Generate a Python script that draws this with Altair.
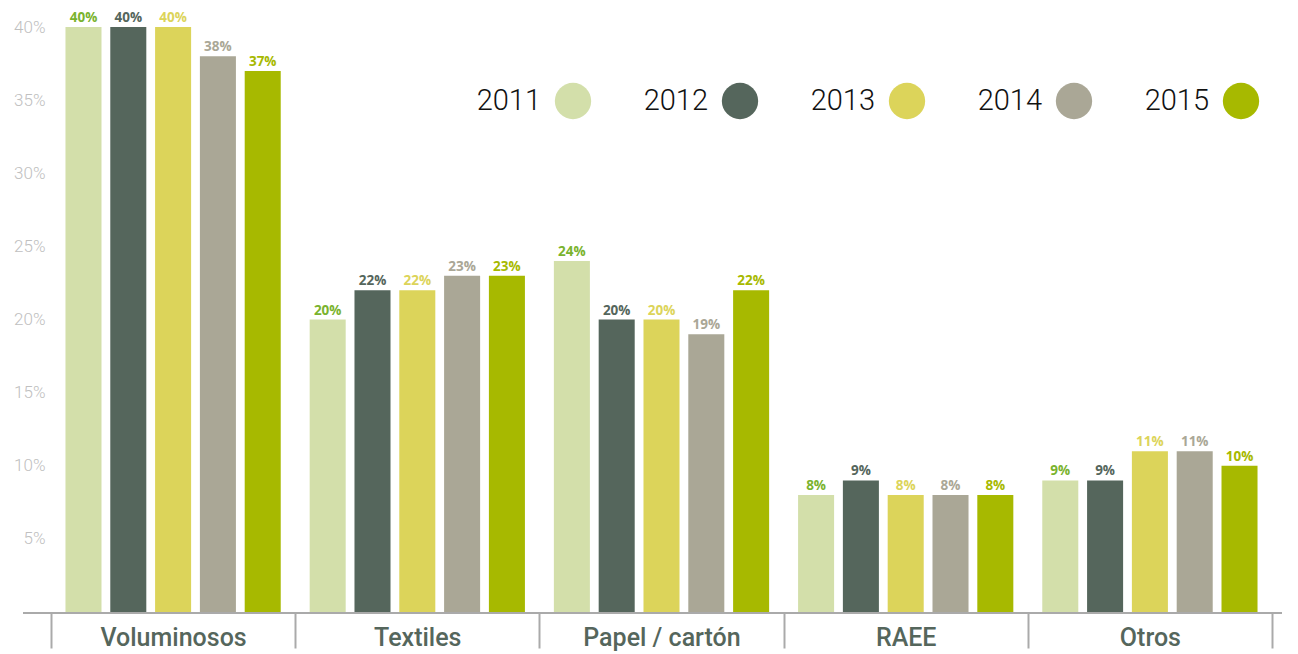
import altair as alt
import pandas as pd

categories = ["Voluminosos", "Textiles", "Papel / cartón", "RAEE", "Otros"]
years = ["2011", "2012", "2013", "2014", "2015"]
v2011 = [40, 20, 24, 8, 9]
v2012 = [40, 22, 20, 9, 9]
v2013 = [40, 22, 20, 8, 11]
v2014 = [38, 23, 19, 8, 11]
v2015 = [37, 23, 22, 8, 10]
bar_colors = ["#d3dfaa", "#55665c", "#dcd45a", "#aaa796", "#a7b900"]
label_colors = ["#7ab32e", "#55665c", "#dcd45a", "#aaa796", "#a7b900"]
y_ticks = [5, 10, 15, 20, 25, 30, 35, 40]

series = [v2011, v2012, v2013, v2014, v2015]
rows = []
for yi, yr in enumerate(years):
    for ci, cat in enumerate(categories):
        v = series[yi][ci]
        rows.append({"cat": cat, "year": yr, "value": v, "label": f"{v}%",
                     "bcolor": bar_colors[yi], "lcolor": label_colors[yi]})
df = pd.DataFrame(rows)
leg = pd.DataFrame({"year": years, "idx": list(range(len(years))), "color": bar_colors})

W, H = 1221, 585

x_axis = alt.Axis(title=None, labelAngle=0, domain=False, tickBand="extent",
                  tickSize=36, tickColor="#aaaaaa", tickWidth=2,
                  labelFont="Roboto", labelFontSize=25, labelFontWeight=500,
                  labelColor="#55665c", labelPadding=-23, labelBaseline="top")
x_enc = alt.X("cat:N", sort=categories, scale=alt.Scale(paddingInner=0, paddingOuter=0), axis=x_axis)
x_enc2 = alt.X("cat:N", sort=categories, scale=alt.Scale(paddingInner=0, paddingOuter=0), axis=None)
xo = alt.XOffset("year:N", sort=years, scale=alt.Scale(paddingInner=0.196, paddingOuter=0.323))
y_enc = alt.Y("value:Q", scale=alt.Scale(domain=[0, 40], nice=False),
              axis=alt.Axis(title=None, values=y_ticks, labelExpr="datum.value + '%'",
                            domain=False, ticks=False, grid=False, labelPadding=6,
                            labelFont="Roboto", labelFontSize=17, labelFontWeight=300,
                            labelColor="#c0c0c0"))

bars = alt.Chart(df).mark_bar().encode(
    x=x_enc, xOffset=xo, y=y_enc,
    color=alt.Color("bcolor:N", scale=None, legend=None),
)
labels = alt.Chart(df).mark_text(baseline="alphabetic", dy=-5, font="Open Sans",
                                 fontWeight="bold", fontSize=13.5).encode(
    x=x_enc2, xOffset=xo, y=y_enc,
    text="label:N",
    color=alt.Color("lcolor:N", scale=None, legend=None),
)
axis_line = alt.Chart(pd.DataFrame({"a": [0]})).mark_rule(color="#aaaaaa", strokeWidth=2).encode(
    x=alt.value(-28), x2=alt.value(1247), y=alt.value(H + 1)
)
lx = alt.X("idx:Q", scale=alt.Scale(domain=[0, 4], range=[522, 1190]), axis=None)
leg_dots = alt.Chart(leg).mark_circle(size=1320, opacity=1).encode(
    x=lx, y=alt.value(74), color=alt.Color("color:N", scale=None, legend=None)
)
leg_text = alt.Chart(leg).mark_text(align="right", baseline="middle", dx=-32, font="Roboto",
                                    fontSize=29, fontWeight=300, color="#111111").encode(
    x=lx, y=alt.value(74), text="year:N"
)

chart = alt.layer(bars, labels, axis_line, leg_dots, leg_text).resolve_scale(
    x="independent"
).properties(
    width=W, height=H,
    autosize=alt.AutoSizeParams(type="none"),
    padding={"left": 43, "top": 19, "right": 10, "bottom": 40},
).configure_view(stroke=None)

chart.save("out.html", embed_options={"renderer": "svg", "actions": False})
